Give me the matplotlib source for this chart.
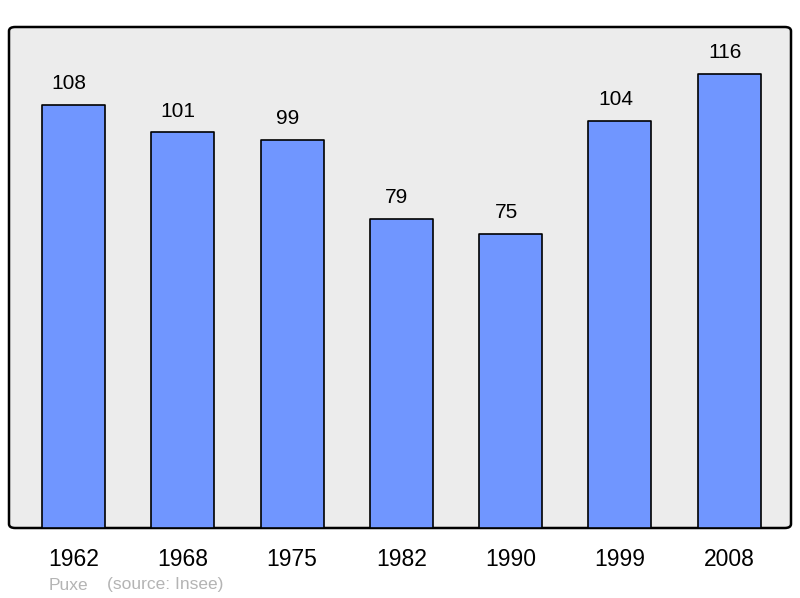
import matplotlib
matplotlib.use("Agg")
import matplotlib.pyplot as plt
from matplotlib.patches import FancyBboxPatch

years = ["1962", "1968", "1975", "1982", "1990", "1999", "2008"]
population = [108, 101, 99, 79, 75, 104, 116]

plt.rcParams['font.family'] = ['Liberation Sans', 'DejaVu Sans']

fig = plt.figure(figsize=(8, 5.98), dpi=100)
ax = fig.add_axes([9/800, (598-528)/598, (791-9)/800, (528-27)/598])
ax.set_xlim(-0.59, 6.565)
ax.set_ylim(0, 127.9)
ax.set_facecolor('none')
for s in ax.spines.values():
    s.set_visible(False)

frame = FancyBboxPatch((0, 0), 1, 1, boxstyle="round,pad=0,rounding_size=0.008",
                       transform=ax.transAxes, facecolor='#ececec', edgecolor='black',
                       linewidth=1.8, zorder=0, clip_on=False)
ax.add_patch(frame)

x = list(range(len(years)))
bars = ax.bar(x, population, width=0.577, color='#7096ff', edgecolor='black',
              linewidth=1.2, zorder=2)
for b in bars:
    b.set_joinstyle('round')

for xi, v in zip(x, population):
    ax.annotate(str(v), (xi, v), xytext=(-3.2, 8.5), textcoords='offset points',
                ha='center', va='bottom', fontsize=15, color='black')

ax.set_xticks(x)
ax.set_xticklabels(years, fontsize=16.5)
ax.tick_params(axis='x', length=0, pad=14.5)
ax.set_yticks([])

fig.text(49/800, 1 - 585/598, "Puxe", fontsize=12.5, color='#b4b4b4', va='center', ha='left')
fig.text(107/800, 1 - 585/598, "(source: Insee)", fontsize=12.5, color='#b4b4b4', va='center', ha='left')

fig.savefig("out.png", dpi=100)
